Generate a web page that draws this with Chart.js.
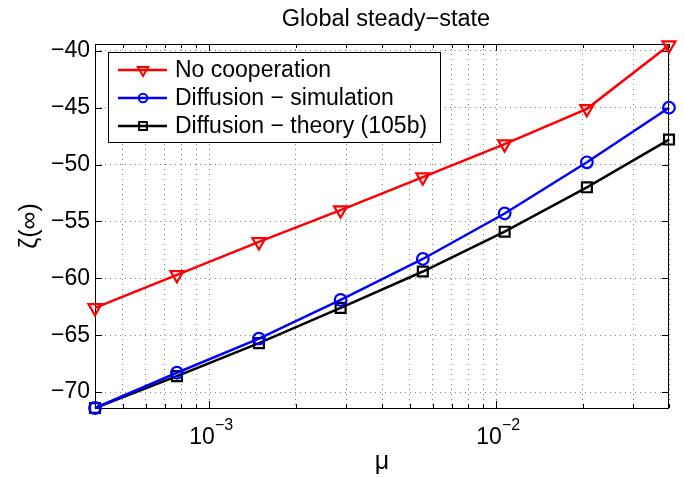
<!DOCTYPE html>
<html>
<head>
<meta charset="utf-8">
<script src="https://cdn.jsdelivr.net/npm/chart.js@4.4.1/dist/chart.umd.min.js"></script>
<style>
html, body { margin: 0; padding: 0; background: #fff; }
#wrap { width: 684px; height: 477px; }
</style>
</head>
<body>
<div id="wrap"><canvas id="chart"></canvas></div>
<script>
const FONT = '"Liberation Sans", Arial, Helvetica, sans-serif';

// mu values (log axis)
const mu = [4.0e-4, 7.72e-4, 1.49e-3, 2.87e-3, 5.55e-3, 1.07e-2, 2.07e-2, 4.0e-2];

const noCooperation = [-62.6, -59.7, -56.8, -54.0, -51.1, -48.2, -45.1, -39.5];
const diffusionSim = [-71.4, -68.3, -65.3, -61.9, -58.3, -54.3, -49.8, -45.0];
const diffusionTheory = [-71.4, -68.6, -65.7, -62.6, -59.4, -55.9, -52.0, -47.8];

const seriesNames = ['No cooperation', 'Diffusion \u2212 simulation', 'Diffusion \u2212 theory (105b)'];

const yTicks = [-70, -65, -60, -55, -50, -45, -40];
const xMajorTicks = [1e-3, 1e-2];
const xMajorExp = ['\u22123', '\u22122'];
const xGridTicks = [4e-4, 5e-4, 6e-4, 7e-4, 8e-4, 9e-4, 1e-3, 2e-3, 3e-3, 4e-3, 5e-3, 6e-3, 7e-3, 8e-3, 9e-3, 1e-2, 2e-2, 3e-2, 4e-2];

const toPoints = (ys) => ys.map((v, i) => ({ x: mu[i], y: v }));

const styles = [
    { color: '#ff0000', pointStyle: 'triangle', rotation: 180, radius: 7.5 },
    { color: '#0000ff', pointStyle: 'circle', rotation: 0, radius: 5.8 },
    { color: '#000000', pointStyle: 'rect', rotation: 0, radius: 7 }
];

const makeDataset = (label, ys, s) => ({
    label: label,
    data: toPoints(ys),
    borderColor: s.color,
    borderWidth: 2.5,
    pointStyle: s.pointStyle,
    pointRotation: s.rotation,
    pointRadius: s.radius,
    pointBorderWidth: 2.2,
    pointBorderColor: s.color,
    pointBackgroundColor: 'rgba(0,0,0,0)',
    tension: 0,
    clip: false
});

const framePlugin = {
    id: 'frame',
    beforeDatasetsDraw(chart) {
        const { ctx, chartArea: a, scales: { x, y } } = chart;
        ctx.save();
        ctx.strokeStyle = '#000';
        ctx.lineWidth = 1;
        ctx.strokeRect(a.left + 0.5, a.top + 0.5, a.right - a.left - 1, a.bottom - a.top);
        ctx.beginPath();
        xGridTicks.forEach(v => {
            const px = Math.round(x.getPixelForValue(v)) + 0.5;
            const len = xMajorTicks.includes(v) ? 7 : 4;
            ctx.moveTo(px, a.bottom); ctx.lineTo(px, a.bottom - len);
            ctx.moveTo(px, a.top); ctx.lineTo(px, a.top + len);
        });
        yTicks.forEach(v => {
            const py = Math.round(y.getPixelForValue(v)) + 0.5;
            ctx.moveTo(a.left, py); ctx.lineTo(a.left + 7, py);
            ctx.moveTo(a.right, py); ctx.lineTo(a.right - 7, py);
        });
        ctx.stroke();
        ctx.restore();
    },
    afterDatasetsDraw(chart) {
        const { ctx, chartArea: a, scales: { x } } = chart;
        ctx.save();

        // legend
        const lx = 108, ly = 52, lw = 332, lh = 90;
        ctx.fillStyle = '#fff';
        ctx.fillRect(lx, ly, lw, lh);
        ctx.strokeStyle = '#000';
        ctx.lineWidth = 1;
        ctx.strokeRect(lx + 0.5, ly + 0.5, lw, lh);
        ctx.font = '23px ' + FONT;
        ctx.textBaseline = 'middle';
        ctx.textAlign = 'left';
        seriesNames.forEach((name, i) => {
            const s = styles[i];
            const ry = 70 + i * 28;
            ctx.strokeStyle = s.color;
            ctx.lineWidth = 2.5;
            ctx.beginPath();
            ctx.moveTo(118, ry); ctx.lineTo(167, ry);
            ctx.stroke();
            ctx.lineWidth = 2;
            ctx.fillStyle = 'rgba(0,0,0,0)';
            Chart.helpers.drawPoint(ctx, {
                pointStyle: s.pointStyle, rotation: s.rotation,
                radius: s.radius - 1.5, borderWidth: 2
            }, 143, ry);
            ctx.fillStyle = '#000';
            ctx.fillText(name, 175, ry + 1);
        });

        // x tick labels 10^n
        ctx.fillStyle = '#000';
        ctx.textBaseline = 'alphabetic';
        xMajorTicks.forEach((v, i) => {
            const px = x.getPixelForValue(v);
            ctx.font = '23px ' + FONT;
            const w1 = ctx.measureText('10').width;
            ctx.font = '16px ' + FONT;
            const w2 = ctx.measureText(xMajorExp[i]).width;
            const start = px - (w1 + w2) / 2 + 2;
            ctx.font = '23px ' + FONT;
            ctx.textAlign = 'left';
            ctx.fillText('10', start, 444);
            ctx.font = '16px ' + FONT;
            ctx.fillText(xMajorExp[i], start + w1, 430);
        });

        // axis titles and title
        ctx.textAlign = 'center';
        ctx.font = '25px ' + FONT;
        ctx.fillText('\u03bc', (a.left + a.right) / 2, 469);
        ctx.font = '23.5px ' + FONT;
        ctx.fillText('Global steady\u2212state', 386, 26);
        ctx.save();
        ctx.translate(37, 226);
        ctx.rotate(-Math.PI / 2);
        ctx.font = '25px ' + FONT;
        ctx.textBaseline = 'alphabetic';
        ctx.fillText('\u03b6(\u221e)', 0, 0);
        ctx.restore();

        ctx.restore();
    }
};

new Chart(document.getElementById('chart'), {
    type: 'line',
    data: {
        datasets: [
            makeDataset(seriesNames[0], noCooperation, styles[0]),
            makeDataset(seriesNames[1], diffusionSim, styles[1]),
            makeDataset(seriesNames[2], diffusionTheory, styles[2])
        ]
    },
    options: {
        responsive: true,
        maintainAspectRatio: false,
        animation: false,
        layout: { padding: { top: 44, right: 15, left: 0, bottom: 0 } },
        plugins: {
            legend: { display: false },
            title: { display: false },
            tooltip: { enabled: false }
        },
        scales: {
            x: {
                type: 'logarithmic',
                min: 4e-4,
                max: 4e-2,
                afterBuildTicks: (scale) => { scale.ticks = xGridTicks.map(v => ({ value: v })); },
                afterFit: (scale) => { scale.height = 69; },
                ticks: { display: false },
                grid: { color: '#808080', lineWidth: 1, drawTicks: false },
                border: { display: false, dash: [1, 4] }
            },
            y: {
                type: 'linear',
                min: -71.4,
                max: -39.4,
                afterBuildTicks: (scale) => { scale.ticks = yTicks.map(v => ({ value: v })); },
                afterFit: (scale) => { scale.width = 95; },
                ticks: {
                    padding: 5,
                    color: '#000',
                    font: { family: FONT, size: 23 },
                    callback: (v) => String(v).replace('-', '\u2212')
                },
                grid: { color: '#808080', lineWidth: 1, drawTicks: false },
                border: { display: false, dash: [1, 4] }
            }
        }
    },
    plugins: [framePlugin]
});
</script>
</body>
</html>
